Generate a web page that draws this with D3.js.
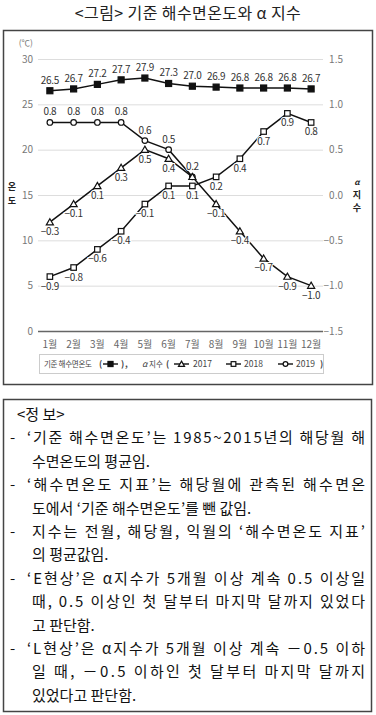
<!DOCTYPE html>
<html>
<head>
<meta charset="utf-8">
<script src="https://cdn.jsdelivr.net/npm/d3@7"></script>
<style>
  body { margin: 0; background: #fff; }
  svg text { font-family: "Noto Sans CJK KR", "Noto Sans", sans-serif; }
</style>
</head>
<body>
<div id="chart"></div>
<script>
// data
const months = ["1월", "2월", "3월", "4월", "5월", "6월", "7월", "8월", "9월", "10월", "11월", "12월"];
const baseTemp = [26.5, 26.7, 27.2, 27.7, 27.9, 27.3, 27.0, 26.9, 26.8, 26.8, 26.8, 26.7];
const alpha2017 = [-0.3, -0.1, 0.1, 0.3, 0.5, 0.4, 0.2, -0.1, -0.4, -0.7, -0.9, -1.0];
const alpha2018 = [-0.9, -0.8, -0.6, -0.4, -0.1, 0.1, 0.1, 0.2, 0.4, 0.7, 0.9, 0.8];
const alpha2019 = [0.8, 0.8, 0.8, 0.8, 0.6, 0.5, 0.2];
const leftTicks = [0, 5, 10, 15, 20, 25, 30];
const rightTicks = [-1.5, -1.0, -0.5, 0.0, 0.5, 1.0, 1.5];

const infoLines = [
  { text: "<정   보>", dash: false, indent: 17, full: false },
  { text: "‘기준 해수면온도’는 1985~2015년의 해당월 해", dash: true, indent: 27, full: true },
  { text: "수면온도의 평균임.", dash: false, indent: 32, full: false },
  { text: "‘해수면온도 지표’는 해당월에 관측된 해수면온", dash: true, indent: 27, full: true },
  { text: "도에서 ‘기준 해수면온도’를 뺀 값임.", dash: false, indent: 32, full: false },
  { text: "지수는 전월, 해당월, 익월의 ‘해수면온도 지표’", dash: true, indent: 32, full: true },
  { text: "의 평균값임.", dash: false, indent: 32, full: false },
  { text: "‘E현상’은 α지수가 5개월 이상 계속 0.5 이상일", dash: true, indent: 27, full: true },
  { text: "때, 0.5 이상인 첫 달부터 마지막 달까지 있었다", dash: false, indent: 32, full: true },
  { text: "고 판단함.", dash: false, indent: 32, full: false },
  { text: "‘L현상’은 α지수가 5개월 이상 계속 －0.5 이하", dash: true, indent: 27, full: true },
  { text: "일 때, －0.5 이하인 첫 달부터 마지막 달까지", dash: false, indent: 32, full: true },
  { text: "있었다고 판단함.", dash: false, indent: 32, full: false }
];

const W = 376, H = 715;
const svg = d3.select("#chart").append("svg")
  .attr("width", W)
  .attr("height", H);

// title
svg.append("text")
  .attr("x", 188).attr("y", 19)
  .attr("text-anchor", "middle")
  .style("font-size", "16px")
  .style("letter-spacing", "0.4px")
  .style("fill", "#222")
  .text("<그림> 기준 해수면온도와 α 지수");

// chart frame
svg.append("rect")
  .attr("x", 3.5).attr("y", 30.5)
  .attr("width", 369).attr("height", 354)
  .attr("fill", "none")
  .attr("stroke", "#444")
  .attr("stroke-width", 1.5);

const plotL = 38, plotR = 323, plotT = 59, plotB = 331;

const x = d3.scaleBand().domain(months).range([plotL, plotR]);
const cx = m => x(m) + x.bandwidth() / 2;
const yL = d3.scaleLinear().domain([0, 30]).range([plotB, plotT]);
const yR = d3.scaleLinear().domain([-1.5, 1.5]).range([plotB, plotT]);

// grid + left axis
const gL = svg.append("g")
  .attr("transform", `translate(${plotL},0)`)
  .call(d3.axisLeft(yL).tickValues(leftTicks).tickSize(-(plotR - plotL)).tickPadding(5));
gL.select(".domain").remove();
gL.selectAll("line")
  .attr("stroke", d => d === 0 ? "#666" : "#ddd")
  .attr("stroke-width", d => d === 0 ? 1.6 : 1);
gL.selectAll("text")
  .style("font-size", "10px")
  .style("fill", "#777");

// right axis
const gR = svg.append("g")
  .attr("transform", `translate(${plotR},0)`)
  .call(d3.axisRight(yR).tickValues(rightTicks).tickSize(0).tickPadding(20).tickFormat(d3.format(".1f")));
gR.select(".domain").remove();
gR.selectAll("text")
  .attr("text-anchor", "end")
  .style("font-size", "10px")
  .style("fill", "#777");

// month labels
svg.append("g")
  .selectAll("text")
  .data(months)
  .join("text")
  .attr("x", d => cx(d))
  .attr("y", 348)
  .attr("text-anchor", "middle")
  .style("font-size", "10px")
  .style("fill", "#666")
  .text(d => d);

// unit + axis titles
svg.append("text")
  .attr("x", 33).attr("y", 46)
  .attr("text-anchor", "end")
  .style("font-size", "8.5px")
  .style("fill", "#777")
  .text("(℃)");

svg.append("g").selectAll("text")
  .data(["온", "도"])
  .join("text")
  .attr("x", 12)
  .attr("y", (d, i) => 190 + i * 13.5)
  .attr("text-anchor", "middle")
  .style("font-size", "9px")
  .style("font-weight", "bold")
  .style("fill", "#222")
  .text(d => d);

svg.append("g").selectAll("text")
  .data(["α", "지", "수"])
  .join("text")
  .attr("x", 357)
  .attr("y", (d, i) => [185, 197.5, 211][i])
  .attr("text-anchor", "middle")
  .style("font-size", d => d === "α" ? "8px" : "9px")
  .style("font-weight", "bold")
  .style("font-style", d => d === "α" ? "italic" : "normal")
  .style("fill", "#222")
  .text(d => d);

// series
const line = (yScale) => d3.line()
  .x((d, i) => cx(months[i]))
  .y(d => yScale(d));

function drawMarker(g, shape, px, py, filled, k = 1) {
  const fill = filled ? "#111" : "#fff";
  if (shape === "square") {
    const s = (filled ? 6 : 5.5) * k;
    g.append("rect")
      .attr("x", px - s / 2).attr("y", py - s / 2)
      .attr("width", s).attr("height", s)
      .attr("fill", fill).attr("stroke", "#111").attr("stroke-width", 1.2);
  } else if (shape === "circle") {
    g.append("circle")
      .attr("cx", px).attr("cy", py).attr("r", 2.8 * k)
      .attr("fill", fill).attr("stroke", "#111").attr("stroke-width", 1.2);
  } else {
    g.append("path")
      .attr("d", d3.symbol().type(d3.symbolTriangle).size(22 * k * k)())
      .attr("transform", `translate(${px},${py + 0.6})`)
      .attr("fill", fill).attr("stroke", "#111").attr("stroke-width", 1.2);
  }
}

const series = [
  { values: baseTemp, scale: yL, shape: "square", filled: true, labelDy: -7, fmt: d3.format(".1f"), skip: () => false },
  { values: alpha2019, scale: yR, shape: "circle", filled: false, labelDy: -7, fmt: d3.format(".1f"), skip: () => false },
  { values: alpha2018, scale: yR, shape: "square", filled: false, labelDy: 13, fmt: d3.format(".1f"), skip: () => false },
  // 2017 label hidden where it sits on the 2019 point with the same value
  { values: alpha2017, scale: yR, shape: "triangle", filled: false, labelDy: 13, fmt: d3.format(".1f"),
    skip: i => alpha2019[i] === alpha2017[i] }
];

series.forEach(s => {
  const g = svg.append("g");
  g.append("path")
    .datum(s.values)
    .attr("d", line(s.scale))
    .attr("fill", "none")
    .attr("stroke", "#111")
    .attr("stroke-width", 1.5);
  s.values.forEach((v, i) => drawMarker(g, s.shape, cx(months[i]), s.scale(v), s.filled));
});

series.forEach(s => {
  svg.append("g")
    .selectAll("text")
    .data(s.values.map((v, i) => ({ v, i })).filter(d => !s.skip(d.i)))
    .join("text")
    .attr("x", d => cx(months[d.i]))
    .attr("y", d => s.scale(d.v) + s.labelDy)
    .attr("text-anchor", "middle")
    .style("font-size", "10px")
    .style("letter-spacing", "-0.3px")
    .style("fill", "#333")
    .style("paint-order", "stroke")
    .style("stroke", "#fff")
    .style("stroke-width", "2px")
    .text(d => s.fmt(d.v));
});

// legend
const lg = svg.append("g");
lg.append("rect")
  .attr("x", 39.5).attr("y", 354.5)
  .attr("width", 284).attr("height", 19)
  .attr("fill", "#fff")
  .attr("stroke", "#ccc");

const ly = 364;
function legText(xp, t, opts = {}) {
  lg.append("text")
    .attr("x", xp).attr("y", ly + 3.3)
    .style("font-size", opts.size || "8.5px")
    .style("letter-spacing", opts.ls || "0px")
    .style("font-weight", opts.bold ? "bold" : "normal")
    .style("font-style", opts.italic ? "italic" : "normal")
    .style("fill", "#444")
    .text(t);
}
function legSymbol(xp, shape, filled) {
  lg.append("line")
    .attr("x1", xp).attr("x2", xp + 15)
    .attr("y1", ly).attr("y2", ly)
    .attr("stroke", "#111").attr("stroke-width", 1.4);
  drawMarker(lg, shape, xp + 7.5, ly, filled, 0.85);
}
legText(44, "기준 해수면온도", { size: "7.5px", ls: "-0.3px" });
legText(99, "(", { bold: true });
legSymbol(103, "square", true);
legText(121, ")", { bold: true });
legText(125, ",", { bold: true });
legText(142, "α", { italic: true });
legText(149, "지수", { size: "7.5px" });
legText(166, "(", { bold: true });
legSymbol(174, "triangle", false);
legText(193, "2017");
legSymbol(226, "square", false);
legText(244, "2018");
legSymbol(278, "circle", false);
legText(296, "2019");
legText(320, ")", { bold: true });

// info box
svg.append("rect")
  .attr("x", 3.5).attr("y", 399.5)
  .attr("width", 368).attr("height", 312)
  .attr("fill", "none")
  .attr("stroke", "#444")
  .attr("stroke-width", 1.5);

const info = svg.append("g");
infoLines.forEach((l, i) => {
  const yy = 420 + i * 23.4;
  if (l.dash) {
    info.append("text")
      .attr("x", 10).attr("y", yy)
      .style("font-size", "15px").style("fill", "#111")
      .text("-");
  }
  const t = info.append("text")
    .attr("x", l.indent).attr("y", yy)
    .style("font-size", "15px")
    .style("fill", "#111")
    .text(l.text);
  if (l.full) {
    t.attr("textLength", 365 - l.indent).attr("lengthAdjust", "spacing");
  }
});
</script>
</body>
</html>
